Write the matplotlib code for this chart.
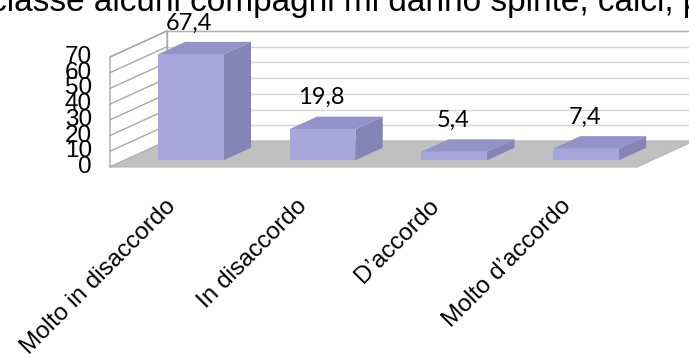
import matplotlib
matplotlib.use("Agg")
import matplotlib.pyplot as plt
from matplotlib.patches import Polygon

# Data
categories = ["Molto in disaccordo", "In disaccordo", "D\u2019accordo", "Molto d\u2019accordo"]
values = [67.4, 19.8, 5.4, 7.4]
value_labels = ["67,4", "19,8", "5,4", "7,4"]
y_ticks = [0, 10, 20, 30, 40, 50, 60, 70]
title = "In classe alcuni compagni mi danno spinte, calci, pugni"

# Figure: 689 x 358 px
W, H = 689, 358
fig = plt.figure(figsize=(W / 100, H / 100), dpi=100)
ax = fig.add_axes([0, 0, 1, 1])
ax.set_axis_off()

# front plane: x = category units, y = value units
x0_px, y0_px = 110.0, 167.0
px_per_cat = 131.75
px_per_val = 110.0 / 70.0
ax.set_xlim((0 - x0_px) / px_per_cat, (W - x0_px) / px_per_cat)
ax.set_ylim((y0_px - H) / px_per_val, (y0_px - 0) / px_per_val)

# depth vector of the 3D box (in data units)
DX = 57.0 / px_per_cat
DY = 26.0 / px_per_val
ymax = 70
n = len(categories)

def poly(pts, fc, ec="none", lw=0.0, z=1):
    ax.add_patch(Polygon(pts, closed=True, facecolor=fc, edgecolor=ec,
                         linewidth=lw, zorder=z))

# back wall
poly([(DX, DY), (n + DX, DY), (n + DX, ymax + DY), (DX, ymax + DY)], "white", z=1)
for t in y_ticks:
    ax.plot([DX, n + DX], [t + DY, t + DY], color="#D6D6D6", lw=1.0, zorder=2)
ax.plot([DX, n + DX], [ymax + DY, ymax + DY], color="#B0B0B0", lw=1.0, zorder=2)
ax.plot([DX, DX], [DY, ymax + DY], color="#B0B0B0", lw=1.0, zorder=2)

# left wall
poly([(0, 0), (DX, DY), (DX, ymax + DY), (0, ymax)], "white", ec="#A8A8A8", lw=1.0, z=3)
for t in y_ticks:
    ax.plot([0, DX], [t, t + DY], color="#A8A8A8", lw=1.0, zorder=4)

# floor
poly([(0, 0), (n, 0), (n + DX, DY), (DX, DY)], "#C0C0C0", ec="#B4B4B4", lw=0.8, z=5)

# bars
bar_w = 0.5
d_front, d_back = 0.26, 0.74
front_c, side_c, top_c = "#A6A6DD", "#8484B6", "#9393CA"
for i, v in enumerate(values):
    xl = i + 0.5 - bar_w / 2 + d_front * DX
    xr = xl + bar_w
    yb = d_front * DY
    yt = yb + v
    ox, oy = (d_back - d_front) * DX, (d_back - d_front) * DY
    poly([(xr, yb), (xr + ox, yb + oy), (xr + ox, yt + oy), (xr, yt)], side_c, z=6)
    poly([(xl, yt), (xr, yt), (xr + ox, yt + oy), (xl + ox, yt + oy)], top_c, z=6)
    poly([(xl, yb), (xr, yb), (xr, yt), (xl, yt)], front_c, z=7)
    ax.text((xl + xr) / 2 - 0.01, yt + oy + 12.0, value_labels[i],
            ha="center", va="center", fontsize=17, family="Lato",
            color="black", zorder=8)

# y-axis tick labels
for t in y_ticks:
    ax.text(-18.0 / px_per_cat, t, str(t), ha="right", va="center",
            fontsize=17.5, family="Liberation Sans", color="black", zorder=8)

# category labels
for i, c in enumerate(categories):
    ax.text(i + 0.5 + 4.0 / px_per_cat, -28.0 / px_per_val, c,
            rotation=45, ha="right", va="top", fontsize=17.5,
            family="Liberation Sans", color="black", zorder=8)

# chart title (wider than the canvas)
fig.text(-47.0 / W, 1 - 11.0 / H, title, ha="left", va="baseline",
         fontsize=24, family="Liberation Sans", color="black")

fig.savefig("out.png", dpi=100)
